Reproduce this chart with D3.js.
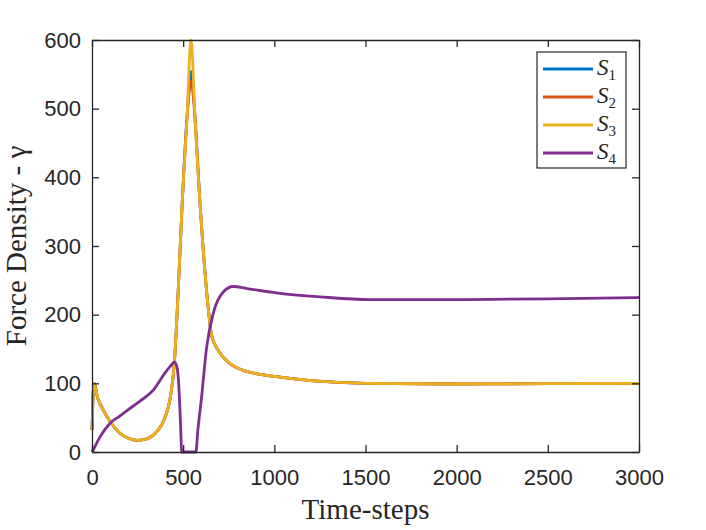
<html>
  <script src="https://d3js.org/d3.v7.min.js"></script>

  <style>
    body {
      margin: 0;
      background: white;
    }
    .tick text {
      font-family: "Liberation Sans", Arial, sans-serif;
      font-size: 22px;
      fill: #262626;
    }
    .tick line,
    .domain {
      stroke: #262626;
      stroke-width: 1.3;
    }
    .label {
      font-family: "Liberation Serif", "Times New Roman", serif;
      font-size: 29px;
      fill: #262626;
    }
    .leg {
      font-family: "Liberation Serif", "Times New Roman", serif;
      font-style: italic;
      font-size: 23px;
      fill: #262626;
    }
  </style>

  <body>
    <svg width="706" height="530"></svg>

    <script>
      // time steps shared by S1..S3
      var steps = [0, 3, 8, 13, 30, 60, 100, 150, 200, 250, 300, 350, 400, 430, 452, 470, 495,
        525, 535, 539, 543, 547, 551, 561, 592, 634, 656, 700, 750, 800, 900, 1000, 1200, 1500, 2000, 2500, 3000];

      var s1 = [32, 60, 92, 100, 80, 62, 44, 28, 20, 17, 19, 28, 50, 80, 131, 219, 364,
        505, 540, 550, 554, 550, 540, 505, 364, 219, 170, 145, 130, 122, 114, 110, 104, 100, 99, 99.5, 100];
      var s2 = [32, 60, 92, 100, 80, 62, 44, 28, 20, 17, 19, 28, 50, 80, 131, 219, 364,
        500, 530, 537, 540, 537, 530, 500, 364, 219, 170, 145, 130, 122, 114, 110, 104, 100, 99, 99.5, 100];
      var s3 = [32, 60, 92, 100, 80, 62, 44, 28, 20, 17, 19, 28, 50, 80, 131, 219, 364,
        510, 575, 592, 600, 592, 575, 510, 364, 219, 170, 145, 130, 122, 114, 110, 104, 100, 99, 99.5, 100];

      // S4 has its own sampling
      var steps4 = [0, 7, 20, 44, 99, 150, 190, 263, 336, 400, 430, 452, 465, 474, 485, 492,
        570, 580, 601, 629, 665, 720, 775, 850, 976, 1031, 1250, 1525, 2000, 2500, 3000];
      var s4 = [0, 3, 10, 22, 42, 52, 60, 74, 90, 115, 125, 131, 125, 105, 45, 0,
        0, 30, 80, 153, 202, 233, 241, 238, 233, 231, 226, 222, 222, 223, 225];

      var names = ["S1", "S2", "S3", "S4"];
      var colors = ["#0072BD", "#D95319", "#EDB120", "#7E2F8E"];
      var xTicks = [0, 500, 1000, 1500, 2000, 2500, 3000];
      var yTicks = [0, 100, 200, 300, 400, 500, 600];

      var pLeft = 92, pTop = 40, pRight = 639, pBottom = 452;

      var x = d3.scaleLinear().domain([0, 3000]).range([pLeft, pRight]);
      var y = d3.scaleLinear().domain([0, 600]).range([pBottom, pTop]);

      var svg = d3.select("svg");

      var series = [
        { name: names[0], t: steps, v: s1, color: colors[0] },
        { name: names[1], t: steps, v: s2, color: colors[1] },
        { name: names[2], t: steps, v: s3, color: colors[2] },
        { name: names[3], t: steps4, v: s4, color: colors[3] },
      ];

      var line = d3
        .line()
        .x(function (d) { return x(d[0]); })
        .y(function (d) { return y(d[1]); })
        .curve(d3.curveMonotoneX);

      series.forEach(function (s) {
        svg
          .append("path")
          .datum(d3.zip(s.t, s.v))
          .attr("fill", "none")
          .attr("stroke", s.color)
          .attr("stroke-width", 2.8)
          .attr("stroke-linejoin", "round")
          .attr("d", line);
      });

      // axes, ticks pointing inwards like matlab
      svg
        .append("g")
        .attr("transform", "translate(0," + pBottom + ")")
        .call(d3.axisBottom(x).tickValues(xTicks).tickFormat(d3.format("d"))
          .tickSizeInner(-7).tickSizeOuter(0).tickPadding(17));

      svg
        .append("g")
        .attr("transform", "translate(0," + pTop + ")")
        .call(d3.axisTop(x).tickValues(xTicks).tickSizeInner(-7).tickSizeOuter(0).tickFormat(""));

      svg
        .append("g")
        .attr("transform", "translate(" + pLeft + ",0)")
        .call(d3.axisLeft(y).tickValues(yTicks).tickFormat(d3.format("d"))
          .tickSizeInner(-7).tickSizeOuter(0).tickPadding(11));

      svg
        .append("g")
        .attr("transform", "translate(" + pRight + ",0)")
        .call(d3.axisRight(y).tickValues(yTicks).tickSizeInner(-7).tickSizeOuter(0).tickFormat(""));

      svg.selectAll(".tick text").attr("fill", "#262626");
      svg.selectAll(".domain").attr("stroke", "#262626");

      svg
        .append("text")
        .attr("class", "label")
        .attr("text-anchor", "middle")
        .attr("x", (pLeft + pRight) / 2)
        .attr("y", 519)
        .text("Time-steps");

      svg
        .append("text")
        .attr("class", "label")
        .attr("text-anchor", "middle")
        .attr("transform", "translate(26," + (pTop + pBottom) / 2 + ") rotate(-90)")
        .text("Force Density - γ");

      // legend
      var leg = svg.append("g");
      leg
        .append("rect")
        .attr("x", 537)
        .attr("y", 52)
        .attr("width", 89)
        .attr("height", 116)
        .attr("fill", "white")
        .attr("stroke", "#262626")
        .attr("stroke-width", 1.2);

      series.forEach(function (s, i) {
        var ly = 69 + i * 28;
        leg
          .append("line")
          .attr("x1", 543)
          .attr("x2", 593)
          .attr("y1", ly)
          .attr("y2", ly)
          .attr("stroke", s.color)
          .attr("stroke-width", 2.8);
        var t = leg
          .append("text")
          .attr("class", "leg")
          .attr("x", 597)
          .attr("y", ly + 6);
        t.append("tspan").text(s.name.charAt(0));
        t.append("tspan")
          .attr("dy", 5)
          .style("font-style", "normal")
          .style("font-size", "15px")
          .text(s.name.slice(1));
      });
    </script>
  </body>
</html>
